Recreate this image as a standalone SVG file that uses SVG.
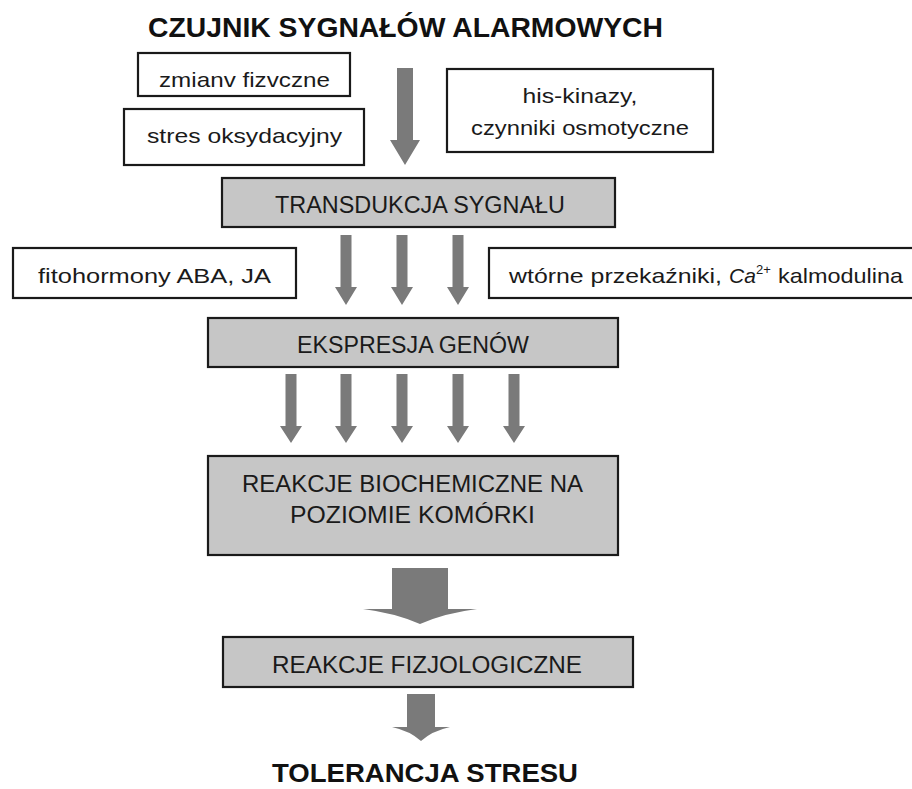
<svg xmlns="http://www.w3.org/2000/svg" width="912" height="789" viewBox="0 0 912 789">
<style>
  .box { fill: #ffffff; stroke: #1a1a1a; stroke-width: 2.2; }
  .gbox { fill: #c6c6c6; stroke: #1a1a1a; stroke-width: 2.2; }
  .t { font-family: "Liberation Sans", "DejaVu Sans", sans-serif; font-size: 21px; fill: #1a1a1a; text-anchor: middle; }
  .g { font-family: "Liberation Sans", "DejaVu Sans", sans-serif; font-size: 23px; fill: #1a1a1a; text-anchor: middle; }
  .h { font-family: "Liberation Sans", "DejaVu Sans", sans-serif; font-size: 27px; font-weight: bold; fill: #111111; text-anchor: middle; }
  .arr { fill: #7a7a7a; stroke: none; }
</style>
<rect width="912" height="789" fill="#ffffff"/>

<g id="title">
  <text class="h" x="405.5" y="37" textLength="515" lengthAdjust="spacingAndGlyphs">CZUJNIK SYGNAŁÓW ALARMOWYCH</text>
</g>

<g id="zmiany">
  <rect class="box" x="138" y="53" width="212" height="43"/>
  <text class="t" x="244.5" y="87" textLength="171" lengthAdjust="spacingAndGlyphs">zmianv fizvczne</text>
</g>

<g id="stres">
  <rect class="box" x="124" y="109" width="240" height="56"/>
  <text class="t" x="244.5" y="143" textLength="195" lengthAdjust="spacingAndGlyphs">stres oksydacyjny</text>
</g>

<g id="his">
  <rect class="box" x="447" y="69" width="266" height="83"/>
  <text class="t" x="580" y="103" textLength="115" lengthAdjust="spacingAndGlyphs">his-kinazy,</text>
  <text class="t" x="580" y="135" textLength="218" lengthAdjust="spacingAndGlyphs">czynniki osmotyczne</text>
</g>

<g id="transdukcja">
  <rect class="gbox" x="222" y="178" width="393" height="49"/>
  <text class="g" x="420" y="213" textLength="290" lengthAdjust="spacingAndGlyphs">TRANSDUKCJA SYGNAŁU</text>
</g>

<g id="fitohormony">
  <rect class="box" x="13" y="248" width="283" height="50"/>
  <text class="t" x="154.5" y="283" textLength="233" lengthAdjust="spacingAndGlyphs">fitohormony ABA, JA</text>
</g>

<g id="wtorne">
  <rect class="box" x="489" y="248" width="440" height="50"/>
  <text class="t" style="text-anchor:start" y="283"><tspan x="509" textLength="213" lengthAdjust="spacingAndGlyphs">wtórne przekaźniki,</tspan><tspan x="729" font-style="italic">Ca</tspan><tspan x="756" dy="-9" font-size="13px">2+</tspan><tspan x="778" dy="9" textLength="125" lengthAdjust="spacingAndGlyphs">kalmodulina</tspan></text>
</g>

<g id="ekspresja">
  <rect class="gbox" x="208" y="318" width="410" height="49"/>
  <text class="g" x="413" y="353" textLength="232" lengthAdjust="spacingAndGlyphs">EKSPRESJA GENÓW</text>
</g>

<g id="biochem">
  <rect class="gbox" x="208" y="456" width="410" height="99"/>
  <text class="g" x="412.5" y="492" textLength="341" lengthAdjust="spacingAndGlyphs">REAKCJE BIOCHEMICZNE NA</text>
  <text class="g" x="412.5" y="523" textLength="245" lengthAdjust="spacingAndGlyphs">POZIOMIE KOMÓRKI</text>
</g>

<g id="fizjologiczne">
  <rect class="gbox" x="223" y="637" width="410" height="50"/>
  <text class="g" x="427" y="673" textLength="310" lengthAdjust="spacingAndGlyphs">REAKCJE FIZJOLOGICZNE</text>
</g>

<g id="tolerancja">
  <text class="h" x="425" y="782" font-size="25px" style="font-size:25px" textLength="306" lengthAdjust="spacingAndGlyphs">TOLERANCJA STRESU</text>
</g>

<g id="connectors">
  <path class="arr" d="M397,68 H413 V140 H420 L405,165 L390,140 H397 Z"/>
  <path class="arr" d="M340.5,235 H351.5 V287 H357 L346,305 L335,287 H340.5 Z"/>
  <path class="arr" d="M396.5,235 H407.5 V287 H413 L402,305 L391,287 H396.5 Z"/>
  <path class="arr" d="M452.5,235 H463.5 V287 H469 L458,305 L447,287 H452.5 Z"/>
  <path class="arr" d="M285.5,374 H296.5 V426 H302 L291,443 L280,426 H285.5 Z"/>
  <path class="arr" d="M340.5,374 H351.5 V426 H357 L346,443 L335,426 H340.5 Z"/>
  <path class="arr" d="M396.5,374 H407.5 V426 H413 L402,443 L391,426 H396.5 Z"/>
  <path class="arr" d="M452.5,374 H463.5 V426 H469 L458,443 L447,426 H452.5 Z"/>
  <path class="arr" d="M508.5,374 H519.5 V426 H525 L514,443 L503,426 H508.5 Z"/>
  <path class="arr" d="M392,568 H448 V609 H477 Q445,613 420,624 Q395,613 363,609 H392 Z"/>
  <path class="arr" d="M407,694 H435 V727 H450 Q432,731 421,741 Q410,731 392,727 H407 Z"/>
</g>
</svg>
